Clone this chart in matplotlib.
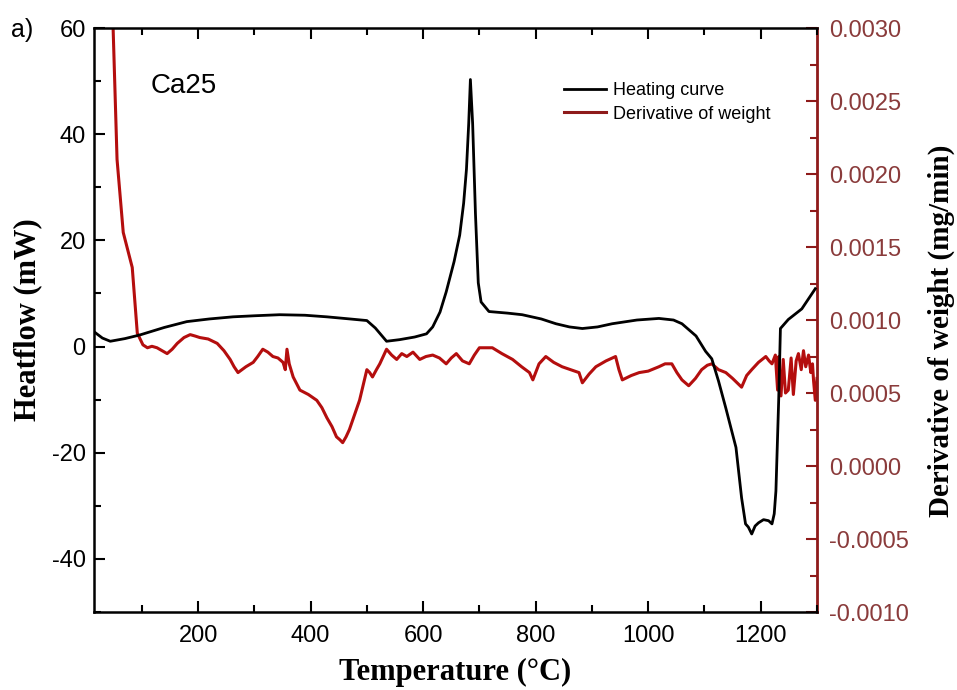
import matplotlib
matplotlib.use("Agg")
import matplotlib.pyplot as plt
from matplotlib.ticker import MultipleLocator

plt.rcParams["axes.unicode_minus"] = False

# Heating curve (DSC heat flow, mW)
heat_T = [15, 30, 44, 70, 97, 140, 180, 220, 262, 300,
          345, 390, 429, 470, 500, 515, 535, 558, 585, 606,
          617, 630, 641, 655, 665, 672, 677, 681, 684, 688,
          693, 698, 703, 717, 750, 776, 810, 836, 860, 883,
          910, 936, 980, 1019, 1045, 1060, 1085, 1102, 1113, 1125,
          1138, 1156, 1166, 1173, 1178, 1184, 1190, 1196, 1205, 1214,
          1220, 1224, 1227, 1232, 1235, 1249, 1273, 1297]
heat_mW = [2.8, 1.6, 1.0, 1.5, 2.2, 3.6, 4.7, 5.2, 5.6, 5.8,
           6.0, 5.9, 5.6, 5.2, 4.9, 3.5, 1.0, 1.3, 1.8, 2.4,
           3.7, 6.5, 10.3, 16.0, 21.0, 27.0, 33.4, 42.0, 50.3, 42.0,
           25.0, 12.0, 8.4, 6.6, 6.3, 6.0, 5.2, 4.3, 3.7, 3.4,
           3.7, 4.3, 5.0, 5.3, 5.0, 4.3, 2.0, -0.9, -2.3, -6.5,
           -11.6, -19.0, -28.5, -33.4, -34.0, -35.3, -33.8, -33.2, -32.6, -32.8,
           -33.4, -31.5, -27.2, -9.8, 3.4, 5.1, 7.1, 10.9]

# Derivative of weight (mg/min)
dtg_T = [49, 56, 67, 83, 92, 102, 110, 118, 127, 136,
         145, 154, 163, 175, 186, 195, 203, 218, 234, 246,
         257, 264, 271, 285, 298, 306, 315, 324, 333, 342,
         351, 355, 358, 362, 369, 381, 396, 411, 420, 429,
         438, 446, 452, 457, 463, 469, 478, 487, 500, 505,
         510, 517, 523, 535, 544, 553, 562, 571, 582, 594,
         605, 617, 629, 641, 650, 659, 670, 682, 691, 700,
         712, 723, 740, 759, 775, 789, 795, 806, 818, 832,
         847, 862, 877, 883, 895, 907, 925, 942, 948, 954,
         970, 984, 1000, 1019, 1030, 1042, 1051, 1060, 1072, 1084,
         1095, 1105, 1113, 1125, 1138, 1150, 1166, 1175, 1184, 1196,
         1209, 1215, 1220, 1226, 1230, 1232, 1236, 1240, 1244, 1249,
         1254, 1258, 1263, 1267, 1272, 1276, 1280, 1285, 1289, 1292,
         1294, 1297, 1300]
dtg_mgmin = [0.0030, 0.0021, 0.0016, 0.00136, 0.00091, 0.00083, 0.00081, 0.00082, 0.00081, 0.00079,
             0.00077, 0.00080, 0.00084, 0.00088, 0.00090, 0.00089, 0.00088, 0.00087, 0.00084, 0.00079,
             0.00073, 0.00068, 0.00064, 0.00068, 0.00071, 0.00075, 0.00080, 0.00078, 0.00075, 0.00074,
             0.00071, 0.00066, 0.00080, 0.00070, 0.00061, 0.00052, 0.00049, 0.00045, 0.00040, 0.00033,
             0.00027, 0.00020, 0.00018, 0.00016, 0.00020, 0.00025, 0.00035, 0.00045, 0.00066, 0.00064,
             0.00061, 0.00066, 0.00070, 0.00080, 0.00076, 0.00073, 0.00077, 0.00075, 0.00078, 0.00073,
             0.00075, 0.00076, 0.00074, 0.00070, 0.00074, 0.00077, 0.00072, 0.00070, 0.00076, 0.00081,
             0.00081, 0.00081, 0.00077, 0.00073, 0.00068, 0.00064, 0.00059, 0.00070, 0.00075, 0.00071,
             0.00068, 0.00066, 0.00064, 0.00057, 0.00063, 0.00068, 0.00072, 0.00075, 0.00066, 0.00059,
             0.00062, 0.00064, 0.00065, 0.00068, 0.00070, 0.00070, 0.00064, 0.00059, 0.00055, 0.00060,
             0.00066, 0.00069, 0.00070, 0.00066, 0.00064, 0.00060, 0.00054, 0.00062, 0.00066, 0.00071,
             0.00075, 0.00072, 0.00070, 0.00076, 0.00052, 0.00075, 0.00048, 0.00073, 0.00050, 0.00052,
             0.00074, 0.00049, 0.00072, 0.00077, 0.00066, 0.00079, 0.00068, 0.00076, 0.00064, 0.00070,
             0.00058, 0.00045, 0.00060]

heat_ticks = [-40, -20, 0, 20, 40, 60]
dtg_ticks = [-0.0010, -0.0005, 0.0000, 0.0005, 0.0010, 0.0015, 0.0020, 0.0025, 0.0030]
temp_ticks = [200, 400, 600, 800, 1000, 1200]

dark_red = "#8E1A1A"
curve_red = "#B40E0E"
label_red = "#8A3B3B"

tick_font = "Liberation Sans"
label_font = "Liberation Serif"

fig = plt.figure(figsize=(9.57, 6.90), dpi=100)
ax = fig.add_axes([0.0982, 0.1130, 0.7555, 0.8464])
ax2 = ax.twinx()

h1, = ax.plot(heat_T, heat_mW, color="black", lw=2.0, label="Heating curve", zorder=3)
h2, = ax2.plot(dtg_T, dtg_mgmin, color=curve_red, lw=2.2,
               label="Derivative of weight", zorder=2)

ax.set_zorder(ax2.get_zorder() + 1)
ax.patch.set_visible(False)

ax.set_xlim(15, 1300)
ax.set_ylim(-50, 60)
ax2.set_ylim(-0.0010, 0.0030)

ax.set_xticks(temp_ticks)
ax.xaxis.set_minor_locator(MultipleLocator(100))
ax.set_yticks(heat_ticks)
ax.yaxis.set_minor_locator(MultipleLocator(10))
ax2.set_yticks(dtg_ticks)
ax2.yaxis.set_minor_locator(MultipleLocator(0.00025))

ax.tick_params(axis="both", which="both", direction="in", top=True, right=False,
               width=1.5, labelsize=17)
ax.tick_params(which="major", length=8)
ax.tick_params(which="minor", length=5)
ax.tick_params(axis="x", pad=9)
ax.tick_params(axis="y", pad=6)
ax2.tick_params(axis="y", which="both", direction="in", colors=dark_red, width=1.5,
                labelsize=17, labelcolor=label_red, pad=9)
ax2.tick_params(which="major", length=8)
ax2.tick_params(which="minor", length=5)

ax2.set_yticklabels([f"{v:.4f}" for v in dtg_ticks])
for lab in ax.get_xticklabels() + ax.get_yticklabels() + ax2.get_yticklabels():
    lab.set_fontfamily(tick_font)

for s in ["left", "top", "bottom"]:
    ax.spines[s].set_linewidth(1.8)
    ax2.spines[s].set_visible(False)
ax.spines["right"].set_visible(False)
ax2.spines["right"].set_color(dark_red)
ax2.spines["right"].set_linewidth(2.0)

ax.set_xlabel("Temperature (°C)", fontfamily=label_font, fontweight="bold",
              fontsize=22, labelpad=8)
ax.set_ylabel("Heatflow (mW)", fontfamily=label_font, fontweight="bold",
              fontsize=22, labelpad=7)
ax2.set_ylabel("Derivative of weight (mg/min)", fontfamily=label_font,
               fontweight="bold", fontsize=21, labelpad=13)
ax2.yaxis.label.set_y(0.481)

ax.text(115, 49, "Ca25", fontfamily=tick_font, fontsize=20, ha="left", va="center")
fig.text(0.012, 0.957, "a)", fontfamily=tick_font, fontsize=18, ha="left", va="center")

leg = ax.legend(handles=[h1, h2], loc="upper left", bbox_to_anchor=(0.628, 0.935),
                frameon=False, prop={"family": tick_font, "size": 13},
                handlelength=2.3, handletextpad=0.4, labelspacing=0.35)
leg.get_lines()[1].set_color(dark_red)

fig.savefig("out.png", dpi=100)
